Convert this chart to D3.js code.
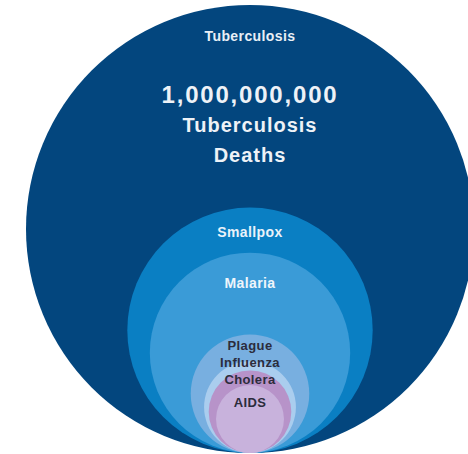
<!DOCTYPE html>
<html>
<head>
<meta charset="utf-8">
<script src="https://cdn.jsdelivr.net/npm/d3@7"></script>
<style>
  html, body { margin: 0; padding: 0; background: #ffffff; }
  svg { display: block; }
  text { font-family: "Liberation Sans", Arial, sans-serif; }
</style>
</head>
<body>
<svg id="chart" width="468" height="454"></svg>
<script>
// ---- data ----
const categories = ["Tuberculosis", "Smallpox", "Malaria", "Plague", "Influenza", "Cholera", "AIDS"];
const deaths = [1000000000, 300000000, 200000000, 70000000, 42000000, 34000000, 23000000];
const headline = ["1,000,000,000", "Tuberculosis", "Deaths"];

// ---- styles / layout ----
const fills = ["#03467e", "#0a7fc3", "#3a9bd7", "#78afe0", "#aacdee", "#b793c9", "#c8b2dc"];
const labelColors = ["#e9eff6", "#e9f2fa", "#eef5fb", "#2c2c3c", "#2c2c3c", "#2c2c3c", "#2c2c3c"];
const labelOffsets = [36, 29, 35, 16, 6, 14, 22]; // baseline offset below circle top
const cx = 250, bottomY = 453, maxR = 224;

const svg = d3.select("#chart");
const r = d3.scaleSqrt().domain([0, d3.max(deaths)]).range([0, maxR]);

const data = categories.map((c, i) => ({ name: c, value: deaths[i], fill: fills[i], color: labelColors[i], off: labelOffsets[i] }));

svg.selectAll("circle.disease")
  .data(data)
  .join("circle")
  .attr("class", "disease")
  .attr("cx", cx)
  .attr("cy", d => bottomY - r(d.value))
  .attr("r", d => r(d.value))
  .attr("fill", d => d.fill);

svg.selectAll("text.label")
  .data(data)
  .join("text")
  .attr("class", "label")
  .attr("x", cx)
  .attr("y", d => bottomY - 2 * r(d.value) + d.off)
  .attr("text-anchor", "middle")
  .attr("font-size", (d, i) => i < 3 ? 14 : 13)
  .attr("font-weight", "bold")
  .attr("letter-spacing", 0.4)
  .attr("fill", d => d.color)
  .text(d => d.name);

const headY = [103, 132, 162];
const headSize = [24, 20, 20];
const headSpacing = [1.8, 1, 1];
svg.selectAll("text.head")
  .data(headline)
  .join("text")
  .attr("class", "head")
  .attr("x", cx)
  .attr("y", (d, i) => headY[i])
  .attr("text-anchor", "middle")
  .attr("font-size", (d, i) => headSize[i])
  .attr("font-weight", "bold")
  .attr("letter-spacing", (d, i) => headSpacing[i])
  .attr("fill", "#eef2f7")
  .text(d => d);
</script>
</body>
</html>
